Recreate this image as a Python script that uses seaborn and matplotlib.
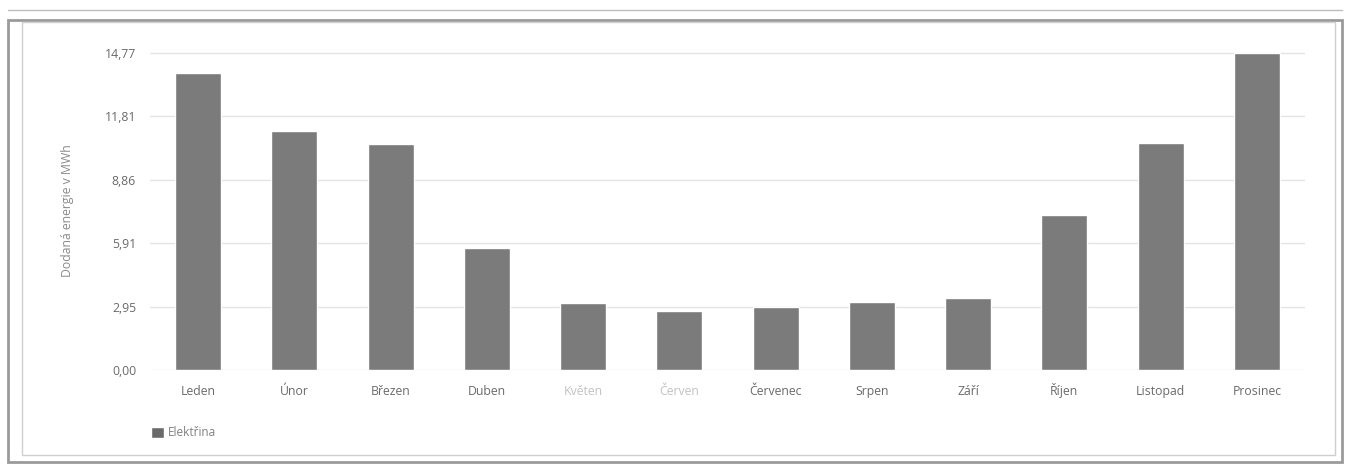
import matplotlib
matplotlib.use("Agg")
import matplotlib.pyplot as plt
import seaborn as sns
import pandas as pd
from matplotlib.patches import Rectangle, Patch

# --- data ---
months = ["Leden", "Únor", "Březen", "Duben", "Květen", "Červen",
          "Červenec", "Srpen", "Září", "Říjen", "Listopad", "Prosinec"]
energy_mwh = [13.84, 11.14, 10.53, 5.69, 3.12, 2.75,
              2.94, 3.17, 3.36, 7.22, 10.58, 14.77]
ytick_values = [0.00, 2.95, 5.91, 8.86, 11.81, 14.77]
ytick_labels = ["0,00", "2,95", "5,91", "8,86", "11,81", "14,77"]

df = pd.DataFrame({"month": months, "energy": energy_mwh})

sns.set_theme(style="white")
plt.rcParams['font.family'] = ['Open Sans', 'DejaVu Sans']

fig = plt.figure(figsize=(13.5, 4.71), dpi=100)
ax = fig.add_axes([150 / 1350, 1 - 370 / 471, 1155 / 1350, 319 / 471])

sns.barplot(data=df, x="month", y="energy", color="#7b7b7b",
            width=0.48, saturation=1, ax=ax)

ax.set_xlim(-0.5, 11.5)
ax.set_ylim(0, 14.85)
ax.set_yticks(ytick_values)
ax.set_yticklabels(ytick_labels)
ax.yaxis.grid(True, color="#e4e4e4", linewidth=1)
ax.set_axisbelow(True)
for s in ax.spines.values():
    s.set_visible(False)
ax.tick_params(axis="both", length=0, labelsize=8.8, labelcolor="#6a6a6a")
ax.tick_params(axis="y", pad=10)
ax.tick_params(axis="x", pad=18)
# baseline alignment so "Říjen" sits on the same line as the others
for lbl in ax.get_xticklabels():
    lbl.set_verticalalignment("baseline")
    # scan faded two of the month labels
    if lbl.get_text() in ("Květen", "Červen"):
        lbl.set_color("#c2c2c2")
ax.set_xlabel("")
ax.set_ylabel("Dodaná energie v MWh", fontsize=8.8, color="#8a8a8a", labelpad=22)

leg = fig.legend(handles=[Patch(facecolor="#6a6a6a", label="Elektřina")],
                 loc="center left", bbox_to_anchor=(140 / 1350, 1 - 433 / 471),
                 frameon=False, fontsize=8.5, handlelength=1.1, handleheight=1.1,
                 handletextpad=0.4, labelcolor="#808080")

# outer frames of the scanned page
fig.patches.append(Rectangle((8 / 1350, 1 - 462 / 471), 1334 / 1350, 442 / 471,
                             transform=fig.transFigure, fill=False,
                             edgecolor="#9a9a9a", linewidth=2))
fig.patches.append(Rectangle((22 / 1350, 1 - 455 / 471), 1313 / 1350, 433 / 471,
                             transform=fig.transFigure, fill=False,
                             edgecolor="#cfcfcf", linewidth=1))
fig.lines.append(plt.Line2D([8 / 1350, 1342 / 1350], [1 - 10 / 471, 1 - 10 / 471],
                            transform=fig.transFigure, color="#bdbdbd", linewidth=1))

fig.savefig("out.png", dpi=100)
